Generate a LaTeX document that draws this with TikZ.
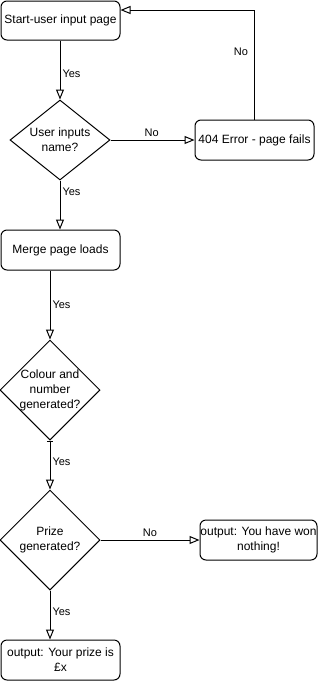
\documentclass[tikz,border=0pt]{standalone}
\usepackage{fontspec}
\setmainfont{Liberation Sans}
\usetikzlibrary{arrows.meta,shapes.geometric}
\begin{document}
\begin{tikzpicture}[x=1pt,y=-1pt,
  box/.style={draw, rounded corners=6pt, line width=1pt, minimum width=119pt,
    minimum height=39pt, inner sep=0pt, align=center,
    font=\fontsize{12}{15}\selectfont},
  dec/.style={draw, diamond, line width=1pt, minimum width=100pt,
    minimum height=80pt, inner sep=0pt},
  dectext/.style={align=center, inner sep=0pt, font=\fontsize{12}{15}\selectfont},
  flow/.style={draw, line width=1pt, -{Triangle[open,length=10pt,width=8pt]}},
  lbl/.style={font=\fontsize{11}{13}\selectfont, inner sep=1pt}
]
\useasboundingbox (0,0) rectangle (321,681);

% process boxes and decisions
\node[box] (start) at (60.5,20.5) {Start-user input page};
\node[dec] (d1) at (60,140) {};
\node[dectext] (t1) at (d1.center) {User inputs\\name?};
\node[box, minimum height=40pt] (err) at (254.5,140) {404 Error - page fails};
\node[box, minimum height=40pt] (merge) at (60.5,250) {Merge page loads};
\node[dec, minimum height=100pt] (d2) at (50,390) {};
\node[dectext] (t2) at (d2.center) {Colour and\\number\\generated?};
\node[dec, minimum height=100pt] (d3) at (50,540) {};
\node[dectext] (t3) at (d3.center) {Prize\\generated?};
\node[box, minimum width=117pt, minimum height=40pt] (lose) at (258.5,540)
  {output: You have won\\nothing!};
\node[box, minimum height=40pt] (win) at (60.5,660) {output: Your prize is\\£x};

% connectors
\draw[flow] (start.south -| d1.north) -- node[lbl, anchor=west, pos=0.57, xshift=1pt] {Yes} (d1.north);
\draw[flow] (d1.east) -- node[lbl, anchor=south, pos=0.49, yshift=2pt] {No} (err.west);
\draw[flow] (err.north) |- node[lbl, anchor=east, pos=0.31, xshift=-5pt] {No} ([yshift=10.5pt]start.east);
\draw[flow] (d1.south) -- node[lbl, anchor=west, pos=0.24, xshift=1pt] {Yes} (d1.south |- merge.north);
\draw[flow] (merge.south -| d2.north) -- node[lbl, anchor=west, pos=0.5, xshift=1pt] {Yes} (d2.north);
\draw[flow, {Bar[width=6pt]}-{Triangle[open,length=10pt,width=8pt]}] (d2.south) -- node[lbl, anchor=west, pos=0.44, xshift=1pt] {Yes} (d3.north);
\draw[flow] (d3.east) -- node[lbl, anchor=south, pos=0.5, yshift=2pt] {No} (lose.west);
\draw[flow] (d3.south) -- node[lbl, anchor=west, pos=0.44, xshift=1pt] {Yes} (d3.south |- win.north);
\end{tikzpicture}
\end{document}
